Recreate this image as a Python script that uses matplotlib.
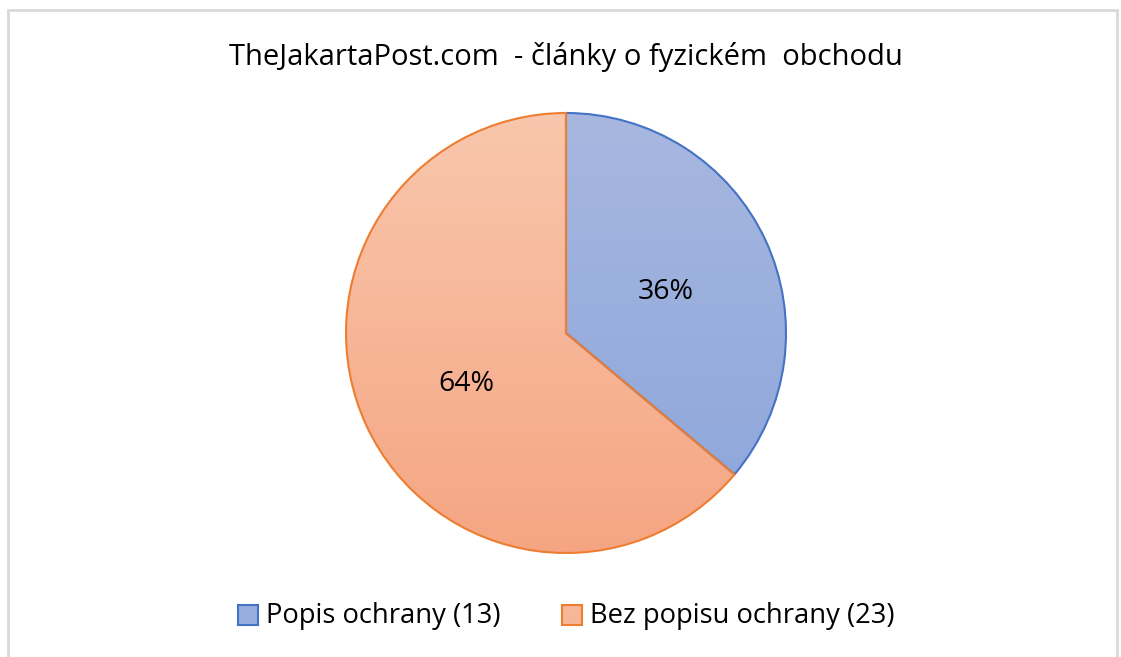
import numpy as np
import matplotlib
matplotlib.use("Agg")
import matplotlib.pyplot as plt
from matplotlib.patches import Rectangle

# data
labels = ["Popis ochrany (13)", "Bez popisu ochrany (23)"]
counts = [13, 23]
edge_colors = ["#4472C4", "#ED7D31"]
top_colors = [(0.655, 0.718, 0.878), (0.976, 0.780, 0.678)]
bottom_colors = [(0.545, 0.647, 0.855), (0.961, 0.647, 0.510)]
title = "TheJakartaPost.com  - články o fyzickém  obchodu"

W, H = 1121, 657
fig = plt.figure(figsize=(W / 100, H / 100), dpi=100)
plt.rcParams['font.family'] = ['Open Sans', 'DejaVu Sans']

# pie axes: centre (566, 333), radius 220 px
cx, cy, r = 566, 333, 220
m = 1.01
ax = fig.add_axes([(cx - r * m) / W, (H - cy - r * m) / H, 2 * r * m / W, 2 * r * m / H])
wedges, texts = ax.pie(counts, startangle=90, counterclock=False, radius=1,
                       colors=["none", "none"],
                       wedgeprops=dict(edgecolor="none"))
ax.set_xlim(-m, m)
ax.set_ylim(-m, m)
ax.set_aspect("equal")
ax.axis("off")

# gradient fill for each wedge, clipped to its shape
for w, ec, tc, bc in zip(wedges, edge_colors, top_colors, bottom_colors):
    t = np.linspace(0, 1, 256)[:, None]
    grad = np.array(tc)[None, None, :] * (1 - t[..., None]) + np.array(bc)[None, None, :] * t[..., None]
    grad = np.repeat(grad, 2, axis=1)
    im = ax.imshow(grad, extent=[-1, 1, -1, 1], origin="upper", aspect="auto", zorder=1)
    im.set_clip_path(w)
    w.set_edgecolor(ec)
    w.set_linewidth(1.5)
    w.set_zorder(2)

# percentage labels
total = sum(counts)
ang = 90
for c in counts:
    span = 360 * c / total
    mid = np.deg2rad(ang - span / 2)
    ax.annotate(f"{100 * c / total:.0f}%", (0.5 * np.cos(mid), 0.5 * np.sin(mid)),
                xytext=(0, -5), textcoords="offset pixels",
                ha="center", va="center", fontsize=20.5, color="black", zorder=3)
    ang -= span

fig.text(cx / W, 1 - 65 / H, title, ha="center", va="baseline", fontsize=21)

# legend
sq = 20
for x0, lab, ec, tc, bc in zip([238, 562], labels, edge_colors, top_colors, bottom_colors):
    fc = tuple((a + b) / 2 for a, b in zip(tc, bc))
    fig.add_artist(Rectangle((x0 / W, 1 - (615 + sq / 2) / H), sq / W, sq / H,
                             transform=fig.transFigure, facecolor=fc, edgecolor=ec, lw=1.5))
    fig.text((x0 + sq + 8) / W, 1 - 623 / H, lab, ha="left", va="baseline", fontsize=19.7)

# chart border
fig.add_artist(Rectangle((8 / W, -0.1), (1117 - 8) / W, 1.1 - 10 / H,
                         transform=fig.transFigure, facecolor="none",
                         edgecolor="#d9d9d9", lw=2))

fig.savefig("out.png", dpi=100)
